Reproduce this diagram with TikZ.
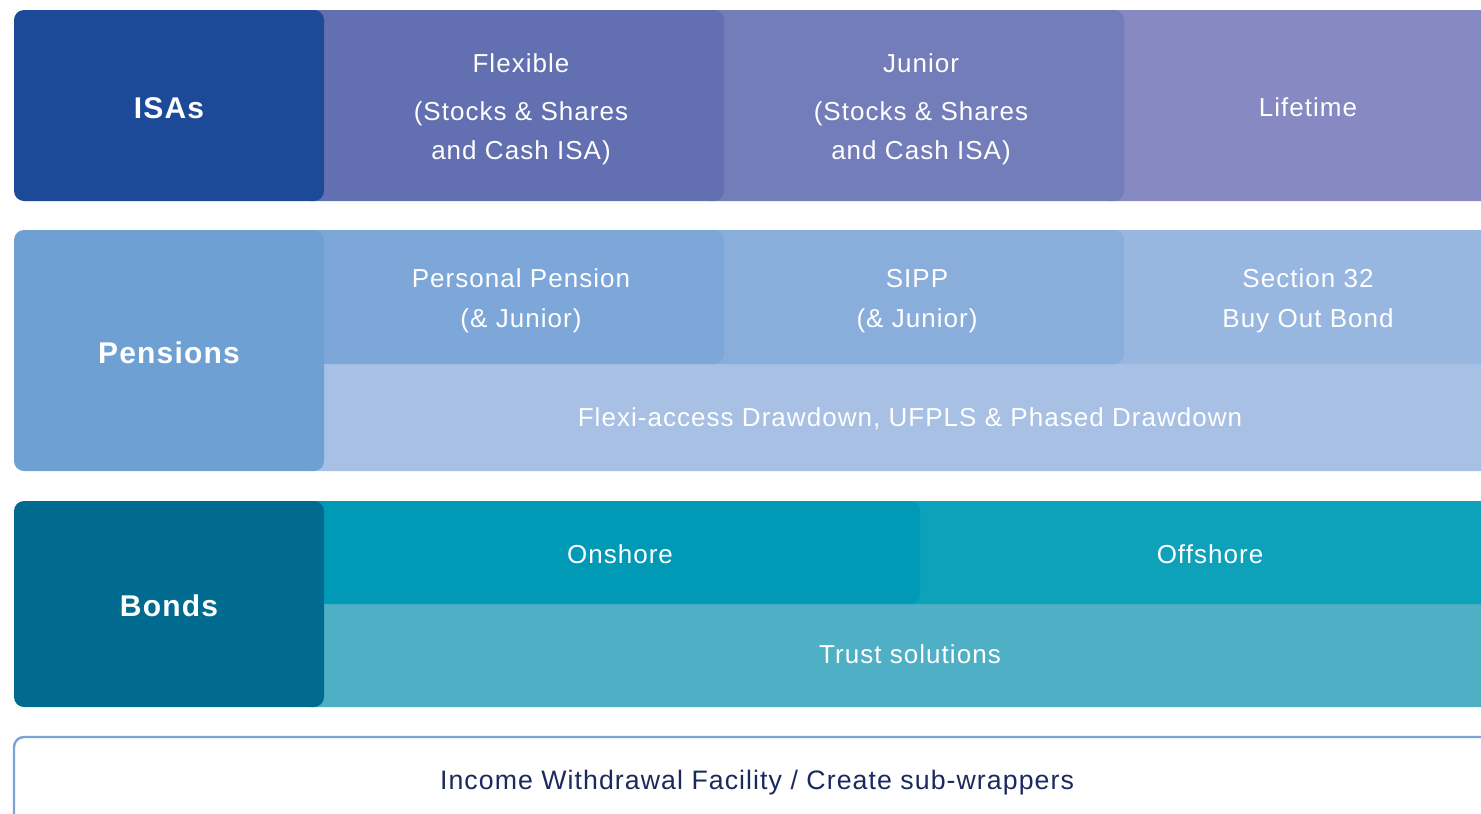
\documentclass[tikz,border=0pt]{standalone}
\usepackage{fontspec}
\setmainfont{Liberation Sans}[LetterSpace=4]
\definecolor{isaL}{HTML}{1C4A99}
\definecolor{flex}{HTML}{626FB0}
\definecolor{jun}{HTML}{737DB9}
\definecolor{life}{HTML}{8689C2}
\definecolor{penL}{HTML}{6FA0D4}
\definecolor{ppc}{HTML}{7DA7D9}
\definecolor{sippc}{HTML}{8AAEDC}
\definecolor{sec}{HTML}{98B7E0}
\definecolor{flexi}{HTML}{A7C0E4}
\definecolor{bondL}{HTML}{006B8F}
\definecolor{onc}{HTML}{0099B6}
\definecolor{offc}{HTML}{0DA1BA}
\definecolor{trustc}{HTML}{4FAFC5}
\definecolor{navy}{HTML}{1B2A5E}
\definecolor{bord}{HTML}{7BA3D6}
\tikzset{
  panel/.style={rounded corners=10pt},
  txt/.style={anchor=base, inner sep=0pt, text=white, font=\fontsize{26}{30}\selectfont},
  head/.style={anchor=base, inner sep=0pt, text=white, font=\fontsize{30}{34}\selectfont\bfseries},
}
\begin{document}
\begin{tikzpicture}[x=1pt,y=-1pt]
\clip (0,0) rectangle (1481,814);
\fill[white] (0,0) rectangle (1481,814);
% ISAs row
\fill[panel, life] (1100,10) rectangle (1530,201);
\fill[panel, jun] (700,10) rectangle (1124,201);
\fill[panel, flex] (300,10) rectangle (724,201);
\fill[panel, isaL] (14,10) rectangle (324,201);
\node[head] (isas) at (169,118) {ISAs};
\node[txt] (flexA) at (521,72) {Flexible};
\node[txt] (flexB) at (521,120) {(Stocks \& Shares};
\node[txt] (flexC) at (521,159) {and Cash ISA)};
\node[txt] (junA) at (921,72) {Junior};
\node[txt] (junB) at (921,120) {(Stocks \& Shares};
\node[txt] (junC) at (921,159) {and Cash ISA)};
\node[txt] (life) at (1308,116) {Lifetime};
% Pensions row
\fill[panel, flexi] (300,340) rectangle (1530,471);
\fill[panel, sec] (1100,230) rectangle (1530,364);
\fill[panel, sippc] (700,230) rectangle (1124,364);
\fill[panel, ppc] (300,230) rectangle (724,364);
\fill[panel, penL] (14,230) rectangle (324,471);
\node[head] (pens) at (169,363) {Pensions};
\node[txt] (ppA) at (521,287) {Personal Pension};
\node[txt] (ppB) at (521,327) {(\& Junior)};
\node[txt] (sippA) at (917,287) {SIPP};
\node[txt] (sippB) at (917,327) {(\& Junior)};
\node[txt] (secA) at (1308,287) {Section 32};
\node[txt] (secB) at (1308,327) {Buy Out Bond};
\node[txt] (flexiT) at (910,426) {Flexi-access Drawdown, UFPLS \& Phased Drawdown};
% Bonds row
\fill[panel, trustc] (300,580) rectangle (1530,707);
\fill[panel, offc] (900,501) rectangle (1530,604);
\fill[panel, onc] (300,501) rectangle (920,604);
\fill[panel, bondL] (14,501) rectangle (324,707);
\node[head] (bonds) at (169,616) {Bonds};
\node[txt] (on) at (620,563) {Onshore};
\node[txt] (off) at (1210,563) {Offshore};
\node[txt] (trust) at (910,663) {Trust solutions};
% bottom box
\draw[panel, bord, line width=2.4pt, fill=white] (14,737) rectangle (1500,830);
\node[txt, text=navy, font=\fontsize{26.7}{30}\selectfont] (income) at (757,789) {Income Withdrawal Facility / Create sub-wrappers};
\end{tikzpicture}
\end{document}
